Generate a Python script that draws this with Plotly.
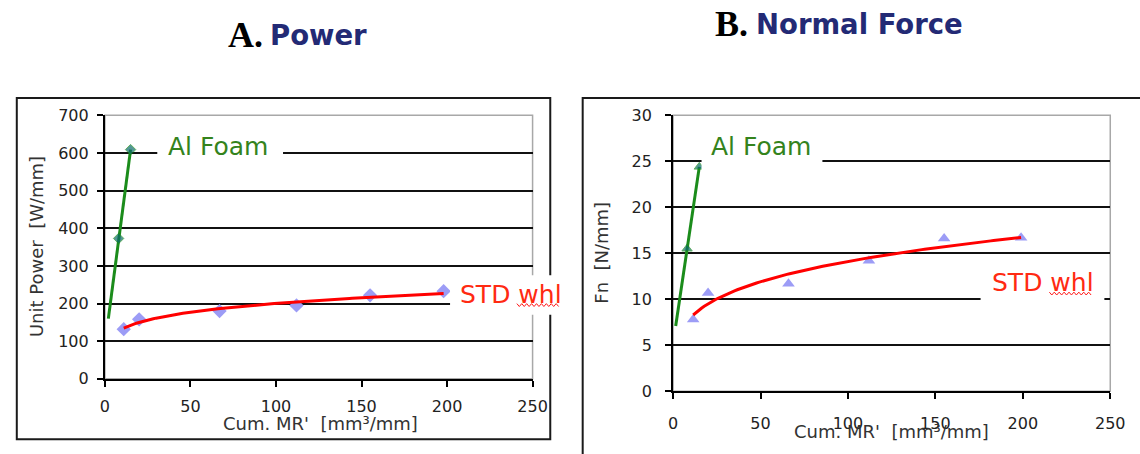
import numpy as np
import plotly.graph_objects as go

W, H = 1140, 454

# ---- data -------------------------------------------------------------
# Cumulative specific material removed  [mm^3/mm]
std_mr_power = [11, 20, 67, 112, 155, 198]
std_power = [132, 158, 180, 195, 222, 233]          # W/mm, standard wheel
foam_mr_power = [2, 8, 15]
foam_power = [160, 373, 609]                       # W/mm, Al foam wheel

std_mr_force = [11.5, 20, 66, 112, 155, 199]
std_force = [7.8, 10.7, 11.7, 14.2, 16.6, 16.7]    # N/mm, standard wheel
foam_mr_force = [1.5, 8, 15]
foam_force = [7.1, 15.5, 24.4]                     # N/mm, Al foam wheel

x_ticks = [0, 50, 100, 150, 200, 250]
power_ticks = [0, 100, 200, 300, 400, 500, 600, 700]
force_ticks = [0, 5, 10, 15, 20, 25, 30]

# ---- helpers ----------------------------------------------------------
def px(x):
    return x / W


def py(y):
    return 1 - y / H


def power_trend(x, y, n=120):
    """Power-law trendline y = a * x^b fitted in log-log space."""
    b, ln_a = np.polyfit(np.log(x), np.log(y), 1)
    xs = np.linspace(min(x), max(x), n)
    return xs, np.exp(ln_a) * xs ** b


def squiggle(x0, x1, y, amp=1.5, step=2.5):
    pts = []
    n = int((x1 - x0) / step)
    for i in range(n + 1):
        yy = y + (amp if i % 2 else -amp)
        pts.append(f"{px(x0 + i * step):.5f},{py(yy):.5f}")
    return "M " + " L ".join(pts)


GREEN_LINE = "#1b8c1b"
FOAM_MARK = "#0b6a6a"
RED_LINE = "#ff0000"
LAVENDER = "#9c9cf6"
LABEL_GREEN = "#34831c"
LABEL_RED = "#ff2a12"
NAVY = "#232a75"
FONT = "DejaVu Sans"

fig = go.Figure()

# ---- A. Power ---------------------------------------------------------
fig.add_trace(go.Scatter(
    x=std_mr_power, y=std_power, mode="markers",
    marker=dict(symbol="diamond", size=11, color=LAVENDER),
    xaxis="x", yaxis="y", hoverinfo="skip"))
tx, ty = power_trend(std_mr_power, std_power)
fig.add_trace(go.Scatter(
    x=tx, y=ty, mode="lines", line=dict(color=RED_LINE, width=3),
    xaxis="x", yaxis="y", hoverinfo="skip"))
fig.add_trace(go.Scatter(
    x=foam_mr_power, y=foam_power, mode="lines+markers",
    line=dict(color=GREEN_LINE, width=3),
    marker=dict(symbol="diamond", size=[0] + [8] * (len(foam_power) - 1),
                color=FOAM_MARK),
    xaxis="x", yaxis="y", hoverinfo="skip"))

# ---- B. Normal Force --------------------------------------------------
fig.add_trace(go.Scatter(
    x=std_mr_force, y=std_force, mode="markers",
    marker=dict(symbol="triangle-up", size=11, color=LAVENDER),
    xaxis="x2", yaxis="y2", hoverinfo="skip"))
tx, ty = power_trend(std_mr_force, std_force)
fig.add_trace(go.Scatter(
    x=tx, y=ty, mode="lines", line=dict(color=RED_LINE, width=3),
    xaxis="x2", yaxis="y2", hoverinfo="skip"))
fig.add_trace(go.Scatter(
    x=foam_mr_force, y=foam_force, mode="lines+markers",
    line=dict(color=GREEN_LINE, width=3),
    marker=dict(symbol="triangle-up", size=[0] + [9] * (len(foam_force) - 1),
                color=FOAM_MARK),
    xaxis="x2", yaxis="y2", hoverinfo="skip"))

axis_common = dict(
    showline=True, linecolor="black", linewidth=2,
    ticks="outside", ticklen=6, tickwidth=1.5, tickcolor="black",
    zeroline=False, fixedrange=True,
    tickfont=dict(family=FONT, size=16, color="#222222"),
)

fig.update_layout(
    width=W, height=H,
    margin=dict(l=0, r=0, t=0, b=0),
    paper_bgcolor="white", plot_bgcolor="white",
    showlegend=False,
    xaxis=dict(axis_common, domain=[px(101.7), px(537)], range=[0, 250],
               tickvals=x_ticks, showgrid=False, anchor="y",
               ticklabelstandoff=6),
    yaxis=dict(axis_common, domain=[py(386), py(111)], range=[0, 700],
               tickvals=power_ticks, showgrid=True, gridcolor="#111111",
               gridwidth=1.5, anchor="x", ticklabelstandoff=5),
    xaxis2=dict(axis_common, domain=[px(680), px(1125)], range=[0, 250],
                tickvals=x_ticks, showgrid=False, anchor="y2",
                ticklabelstandoff=10),
    yaxis2=dict(axis_common, domain=[py(399), py(111)], range=[0, 30],
                tickvals=force_ticks, showgrid=True, gridcolor="#111111",
                gridwidth=1.5, anchor="x2", ticklabelstandoff=10),
)

shapes = []
# plot-area frames (grey top/right edges)
for xr, yr in (("x domain", "y domain"), ("x2 domain", "y2 domain")):
    shapes.append(dict(type="rect", xref=xr, yref=yr, x0=0, x1=1, y0=0, y1=1,
                       line=dict(color="#a8a8a8", width=1.5), layer="below"))
# chart-object borders
shapes.append(dict(type="rect", xref="paper", yref="paper",
                   x0=px(12), x1=px(555), y0=py(449), y1=py(93),
                   line=dict(color="#1a1a1a", width=2), layer="above"))
shapes.append(dict(type="rect", xref="paper", yref="paper",
                   x0=px(588), x1=px(1160), y0=py(480), y1=py(93),
                   line=dict(color="#1a1a1a", width=2), layer="above"))
# white backgrounds behind the series labels
for x0, x1, y0, y1 in ((155, 283, 128, 162), (453, 571, 278, 319),
                       (709, 832, 126, 168), (993, 1119, 268, 316)):
    shapes.append(dict(type="rect", xref="paper", yref="paper",
                       x0=px(x0), x1=px(x1), y0=py(y1), y1=py(y0),
                       fillcolor="white", line=dict(width=0), layer="above"))
# spell-check squiggles under "whl"
for x0, x1, y in ((521, 565, 309), (1063, 1107, 297)):
    shapes.append(dict(type="path", xref="paper", yref="paper",
                       path=squiggle(x0, x1, y),
                       line=dict(color="#ff1a1a", width=1), layer="above"))
fig.update_layout(shapes=shapes)

ann = []


def label(text, x, y, size, color, family=FONT, angle=0, anchor="center"):
    ann.append(dict(text=text, x=px(x), y=py(y), xref="paper", yref="paper",
                    xanchor=anchor, yanchor="middle", showarrow=False,
                    textangle=angle,
                    font=dict(family=family, size=size, color=color)))


# series labels
label("Al Foam", 217, 143, 25, LABEL_GREEN)
label("STD whl", 515, 298, 25, LABEL_RED)
label("Al Foam", 769, 143, 25, LABEL_GREEN)
label("STD whl", 1057, 285, 25, LABEL_RED)

# axis titles
label("Cum. MR'\u00a0 [mm³/mm]", 321, 433, 18, "#333333")
label("Cum. MR'\u00a0 [mm³/mm]", 902, 441, 18, "#333333")
label("Unit Power\u00a0 [W/mm]", 32, 248, 18, "#333333", angle=-90)
label("Fn\u00a0 [N/mm]", 607, 254, 18, "#333333", angle=-90)

# panel headings
label("<b>A.</b>", 225, 27, 36, "black", family="Liberation Serif", anchor="left")
label("<b>Power</b>", 268, 27, 27.5, NAVY, anchor="left")
label("<b>B.</b>", 721, 16, 36, "black", family="Liberation Serif", anchor="left")
label("<b>Normal Force</b>", 762, 16, 27.5, NAVY, anchor="left")

fig.update_layout(annotations=ann)

fig.write_html("out.html")
